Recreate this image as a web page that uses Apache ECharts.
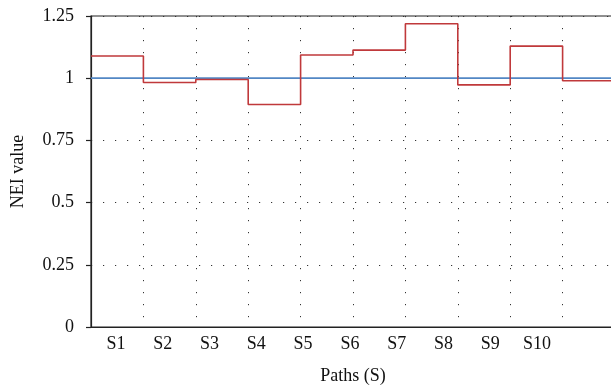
<!DOCTYPE html>
<html>
<head>
<meta charset="utf-8">
<script src="https://cdn.jsdelivr.net/npm/echarts@6/dist/echarts.min.js"></script>
<style>
    html, body { margin: 0; padding: 0; background: #fff; overflow: hidden; }
    /* plot runs a little past the right edge of the window, as in the figure */
    #nei-chart { width: 615px; height: 391px; }
</style>
</head>
<body>
<div id="nei-chart"></div>
<script>
    // path labels on the x axis
    var pathLabels = ['S1', 'S2', 'S3', 'S4', 'S5', 'S6', 'S7', 'S8', 'S9', 'S10'];
    // NEI value held over each step
    var neiValues = [1.089, 0.983, 0.995, 0.894, 1.093, 1.113, 1.219, 0.973, 1.129, 0.990];
    // reference level
    var refValue = 1;
    var yTicks = [0, 0.25, 0.5, 0.75, 1, 1.25];

    var font = 'Liberation Serif';

    // step data: each value is held from i to i+1
    var stepData = neiValues.map(function (v, i) { return [i, v]; });
    stepData.push([neiValues.length, neiValues[neiValues.length - 1]]);

    var chart = echarts.init(document.getElementById('nei-chart'));
    var option = {
        animation: false,
        grid: [
            {
                left: 91,
                right: 0,
                top: 16,
                bottom: 64,
                show: true,
                borderColor: '#222',
                borderWidth: 1.2
            },
            {
                // only used to place the path labels
                left: 116,
                right: 78,
                top: 16,
                bottom: 64
            }
        ],
        xAxis: [
            {
                type: 'value',
                gridIndex: 0,
                min: 0,
                max: neiValues.length,
                interval: 1,
                axisLine: { show: true, lineStyle: { color: '#222', width: 1.2 } },
                axisTick: { show: false },
                axisLabel: { show: false },
                splitLine: {
                    show: true,
                    lineStyle: { type: [1.2, 10.8], color: '#333', width: 1 }
                }
            },
            {
                type: 'category',
                gridIndex: 1,
                data: pathLabels,
                boundaryGap: false,
                axisLine: { show: false },
                axisTick: { show: false },
                splitLine: { show: false },
                axisLabel: {
                    color: '#111',
                    fontFamily: font,
                    fontSize: 18,
                    margin: 8
                },
                name: 'Paths (S)',
                nameLocation: 'middle',
                nameGap: 40,
                nameTextStyle: {
                    color: '#111',
                    fontFamily: font,
                    fontSize: 18,
                    padding: [0, 0, 0, 53]
                }
            }
        ],
        yAxis: [
            {
                type: 'value',
                gridIndex: 0,
                min: yTicks[0],
                max: yTicks[yTicks.length - 1],
                interval: 0.25,
                name: 'NEI value',
                nameLocation: 'middle',
                nameGap: 64,
                nameTextStyle: { color: '#111', fontFamily: font, fontSize: 18 },
                axisLine: { show: true, lineStyle: { color: '#222', width: 1.2 } },
                axisTick: { show: true, length: 5, lineStyle: { color: '#222', width: 1.2 } },
                axisLabel: {
                    color: '#111',
                    fontFamily: font,
                    fontSize: 18,
                    margin: 17,
                    formatter: function (v) { return String(v); }
                },
                splitLine: {
                    show: true,
                    lineStyle: { type: [1.2, 10.8], color: '#333', width: 1 }
                }
            },
            {
                type: 'value',
                gridIndex: 1,
                show: false,
                splitLine: { show: false }
            }
        ],
        series: [
            {
                name: 'reference',
                type: 'line',
                xAxisIndex: 0,
                yAxisIndex: 0,
                data: [[0, refValue], [neiValues.length, refValue]],
                symbol: 'none',
                lineStyle: { color: '#5287c4', width: 1.7 },
                z: 3
            },
            {
                name: 'NEI',
                type: 'line',
                xAxisIndex: 0,
                yAxisIndex: 0,
                step: 'end',
                data: stepData,
                symbol: 'none',
                lineStyle: { color: '#c0393b', width: 1.6 },
                z: 4
            }
        ]
    };
    chart.setOption(option);
</script>
</body>
</html>
